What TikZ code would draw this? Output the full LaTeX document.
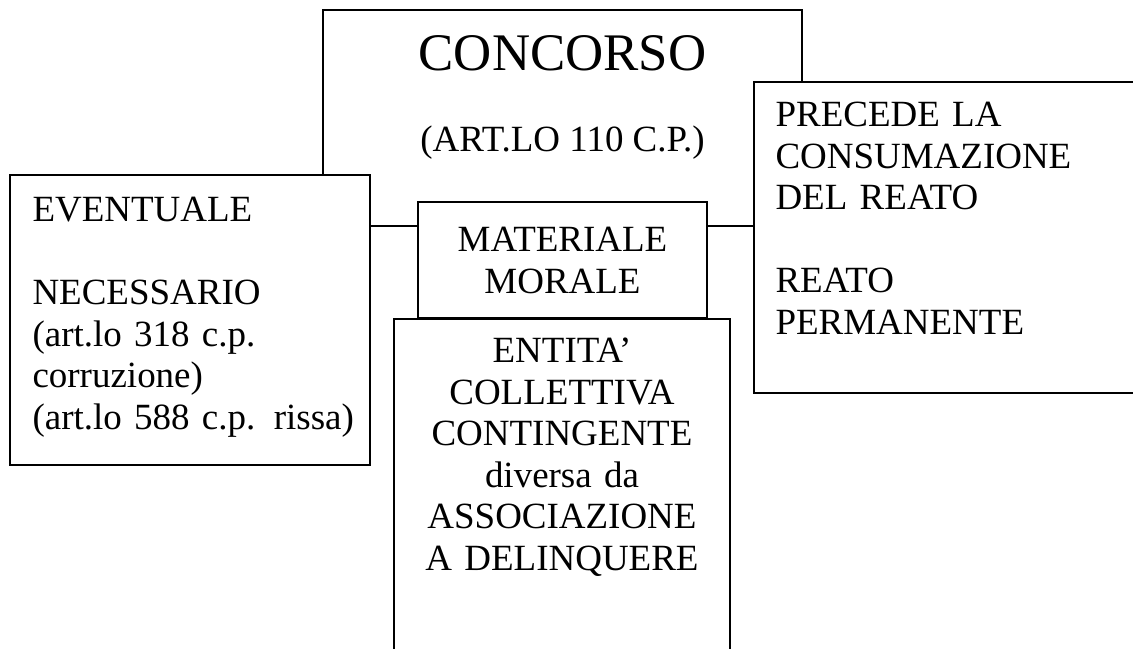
\documentclass[tikz,border=0pt]{standalone}
\usepackage{fontspec}
\setmainfont{Liberation Serif}
\usetikzlibrary{positioning}
\tikzset{
  box/.style={draw, fill=white, line width=0.6pt, inner sep=0pt, outer sep=0pt},
  txt/.style={inner sep=0pt, font=\fontsize{14}{15.7}\selectfont}
}

\begin{document}
\begin{tikzpicture}[x=0.3786pt, y=-0.3786pt]
  \def\px{0.3786pt}
  \useasboundingbox (0,0) rectangle (1133,649);
  \clip (0,0) rectangle (1133,649);
  \foreach \n/\a/\b/\c/\d in {
    concorso/323/10/802/226,
    eventuale/10/175/370/465,
    precede/754/82/1160/393,
    materiale/418/202/707/318,
    entita/394/319/730/700
  }{
    \node[box, minimum width={(\c-\a)*\px}, minimum height={(\d-\b)*\px}] (\n) at ({(\a+\c)/2},{(\b+\d)/2}) {};
  }
  \node[txt, font=\fontsize{20}{24}\selectfont, anchor=base] (concorsotitle) at (562.5,71) {CONCORSO};
  \node[txt, anchor=base] (concorsoart) at (562.5,152) {(ART.LO 110 C.P.)};
  \node[txt, anchor=base west, text width={335*\px}, align=left] (eventualetxt) at (32,222)
    {EVENTUALE\\[15.7pt] NECESSARIO\\(art.lo 318 c.p.\\corruzione)\\(art.lo 588 c.p. rissa)};
  \node[txt, anchor=base west, text width={350*\px}, align=left] (precedetxt) at (775,127)
    {PRECEDE LA\\CONSUMAZIONE\\DEL REATO\\[15.7pt] REATO\\PERMANENTE};
  \node[txt, anchor=base, text width={280*\px}, align=center] (materialetxt) at (562.5,252)
    {MATERIALE\\MORALE};
  \node[txt, anchor=base, text width={330*\px}, align=center] (entitatxt) at (562,363)
    {ENTITA’\\COLLETTIVA\\CONTINGENTE\\diversa da\\ASSOCIAZIONE\\A DELINQUERE};
\end{tikzpicture}
\end{document}
